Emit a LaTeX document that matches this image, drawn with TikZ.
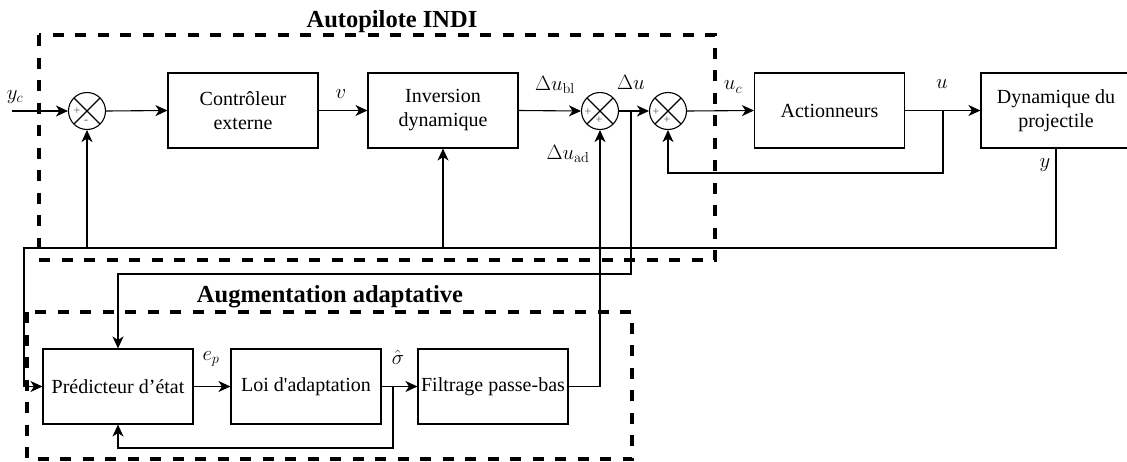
\documentclass[tikz,border=0pt]{standalone}
\usepackage[no-math]{fontspec}
\setmainfont{Liberation Serif}
\newfontfamily\plainrm{Liberation Serif}
\usetikzlibrary{arrows.meta,calc}
\begin{document}
\begin{tikzpicture}[x=1pt,y=-1pt,
  blk/.style={draw, line width=1.1pt, minimum width=150pt, minimum height=75pt, align=center, font=\fontsize{20}{24}\selectfont, inner sep=0pt},
  sumnode/.style={draw, circle, line width=1.1pt, minimum size=37pt, inner sep=0pt,
    path picture={\draw[line width=1.1pt] (path picture bounding box.north west) -- (path picture bounding box.south east)
      (path picture bounding box.north east) -- (path picture bounding box.south west);}},
  wire/.style={line width=1.1pt},
  arr/.style={wire, -{Stealth[length=12pt,width=11pt,inset=3.5pt]}},
  lbl/.style={font=\fontsize{20}{24}\selectfont, inner sep=0pt},
  sgn/.style={font=\fontsize{12}{12}\selectfont, text=black!65, inner sep=0pt},
  grp/.style={line width=3.4pt, dash pattern=on 11pt off 11.5pt},
  ttl/.style={font=\fontsize{24.5}{28}\selectfont\bfseries, inner sep=0pt, anchor=base}]
\useasboundingbox (0,0) rectangle (1127,461);
\clip (0,0) rectangle (1127,461);

% group boxes
\draw[grp] (39,35) rectangle (715,260);
\draw[grp] (27,312) rectangle (632,459);
\node[ttl] (t1) at (392,27) {Autopilote INDI};
\node[ttl] (t2) at (330,302) {Augmentation adaptative};

% blocks
\node[sumnode] (s1) at (87,111) {};
\node[blk] (ctrl) at (243,110.5) {Contrôleur\\externe};
\node[blk] (inv) at (443,110.5) {Inversion\\dynamique};
\node[sumnode] (s2) at (600,111) {};
\node[sumnode] (s3) at (668,111) {};
\node[blk] (act) at (829.5,110.5) {Actionneurs};
\node[blk] (dyn) at (1056,110.5) {Dynamique du\\projectile};
\node[blk] (pred) at (118,386.5) {Prédicteur d’état};
\node[blk] (loi) at (306,386.5) {\plainrm Loi d'adaptation};
\node[blk] (filt) at (493,386.5) {Filtrage passe-bas};

% signs
\node[sgn] (s1a) at ([shift={(-10,0)}]s1.center) {+};
\node[sgn] (s1b) at ([shift={(-1,11)}]s1.center) {-};
\node[sgn] (s2a) at ([shift={(-12,1)}]s2.center) {+};
\node[sgn] (s2b) at ([shift={(-1,9)}]s2.center) {+};
\node[sgn] (s3a) at ([shift={(-12,1)}]s3.center) {+};
\node[sgn] (s3b) at ([shift={(-1,9)}]s3.center) {+};

% labels
\node[lbl] (lyc) at (15,97) {$y_c$};
\node[lbl] (lv) at (341,94) {$v$};
\node[lbl] (ldubl) at (555,85) {$\Delta u_{\mathrm{bl}}$};
\node[lbl] (ldu) at (631,82) {$\Delta u$};
\node[lbl] (luc) at (733,87) {$u_c$};
\node[lbl] (lu) at (942,84) {$u$};
\node[lbl] (ly) at (1045,165) {$y$};
\node[lbl] (lduad) at (568,154) {$\Delta u_{\mathrm{ad}}$};
\node[lbl] (lep) at (211,359) {$e_p$};
\node[lbl] (lsig) at (398,357) {$\hat\sigma$};

% coordinates
\coordinate (yin) at (12,111);
\coordinate (ybus) at (0,248);
\coordinate (bdu) at (631,111);
\coordinate (bu) at (943,111);
\coordinate (bs) at (393,386.5);

% connectors
\draw[arr] (yin) -- (s1.west);
\draw[arr] (s1.east) -- (ctrl.west);
\draw[arr] (ctrl.east) -- (inv.west);
\draw[arr] (inv.east) -- (s2.west);
\draw[arr] (s2.east) -- (s3.west);
\draw[arr] (s3.east) -- (act.west);
\draw[arr] (act.east) -- (dyn.west);
\draw[arr] (bu) -- (943,173) -| (s3.south);
\draw[arr] (dyn.south) |- (24,248) |- (pred.west);
\draw[arr] (s1 |- ybus) -- (s1.south);
\draw[arr] (inv |- ybus) -- (inv.south);
\draw[arr] (bdu) -- (631,274) -| (pred.north);
\draw[arr] (pred.east) -- (loi.west);
\draw[arr] (loi.east) -- (filt.west);
\draw[arr] (bs) -- (393,448) -| (pred.south);
\draw[arr] (filt.east) -| (s2.south);
\end{tikzpicture}
\end{document}
